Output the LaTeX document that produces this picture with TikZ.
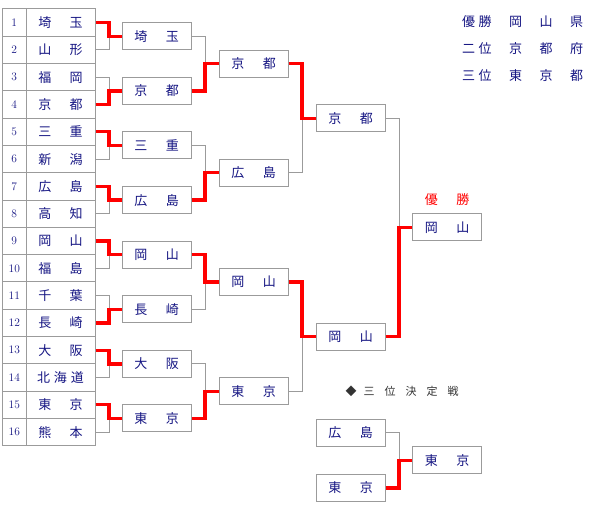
\documentclass[tikz,border=0pt]{standalone}
\usepackage{fontspec}
\newfontfamily\jp{Noto Sans CJK JP}
\definecolor{ink}{RGB}{20,20,130}
\definecolor{frame}{RGB}{155,155,155}
\newcommand\sep{\hspace{18.5pt}}
% one match: top, bottom, next round, winner
\newcommand\bout[4]{%
  \draw[wire] (#1.east) -- ++(13.5,0) |- (#3.west);
  \draw[wire] (#2.east) -- ++(13.5,0) |- (#3.west);
  \draw[win] (#4.east) -- ++(13.5,0) |- (#3.west);}

\begin{document}
\begin{tikzpicture}[x=1pt, y=-1pt]
    \tikzstyle{cell}=[draw=frame, line width=1pt, inner sep=0pt, minimum height=27.3pt, text=ink]
    \tikzstyle{box}=[draw=frame, line width=1pt, fill=white, inner sep=0pt, minimum width=69pt, minimum height=27pt, text=ink, font=\jp\fontsize{13}{15}\selectfont]
    \tikzstyle{wire}=[draw=frame, line width=1pt]
    \tikzstyle{win}=[draw=red, line width=3.3pt]
    \useasboundingbox (0,0) rectangle (600,510);
    % entry table
    \foreach \i/\nm in {1/埼\sep 玉, 2/山\sep 形, 3/福\sep 岡, 4/京\sep 都,
        5/三\sep 重, 6/新\sep 潟, 7/広\sep 島, 8/高\sep 知,
        9/岡\sep 山, 10/福\sep 島, 11/千\sep 葉, 12/長\sep 崎,
        13/大\sep 阪, 14/北\hspace{4pt}海\hspace{4pt}道, 15/東\sep 京, 16/熊\sep 本} {
      \pgfmathsetmacro\yy{9+27.3*(\i-0.5)}
      \node[cell, minimum width=23.5pt, font=\fontsize{11.5}{13}\selectfont] (n\i) at (14.25,\yy) {\i};
      \node[cell, minimum width=69pt, font=\jp\fontsize{13}{15}\selectfont] (t\i) at (60.5,\yy) {\nm};
    }
    % rounds
    \foreach \i/\nm in {1/埼\sep 玉, 2/京\sep 都, 3/三\sep 重, 4/広\sep 島,
        5/岡\sep 山, 6/長\sep 崎, 7/大\sep 阪, 8/東\sep 京}
      \node[box] (a\i) at (156.5,{36.3+54.6*(\i-1)}) {\nm};
    \foreach \i/\nm in {1/京\sep 都, 2/広\sep 島, 3/岡\sep 山, 4/東\sep 京}
      \node[box] (b\i) at (253.5,{63.6+109.2*(\i-1)}) {\nm};
    \node[box] (c1) at (350.5,118.2) {京\sep 都};
    \node[box] (c2) at (350.5,336.6) {岡\sep 山};
    \node[box] (champ) at (447,227.4) {岡\sep 山};
    \node[text=red, font=\jp\fontsize{13}{15}\selectfont] (champlbl) at (447,200) {優\sep 勝};
    % third place
    \node[text=black!80, font=\jp\fontsize{11}{13}\selectfont, anchor=west] (thirdlbl) at (342,391.5)
      {◆\hspace{7pt}三\hspace{10pt}位\hspace{10pt}決\hspace{10pt}定\hspace{10pt}戦};
    \node[box] (p1) at (350.5,433) {広\sep 島};
    \node[box] (p2) at (350.5,488) {東\sep 京};
    \node[box] (p3) at (447,460.5) {東\sep 京};
    % result list
    \node[text=ink, font=\jp\fontsize{13}{15}\selectfont, anchor=west] (res1) at (458.5,21.7)
      {優\hspace{3.5pt}勝\hspace{17.5pt}岡\hspace{17.5pt}山\hspace{17.5pt}県};
    \node[text=ink, font=\jp\fontsize{13}{15}\selectfont, anchor=west] (res2) at (458.5,49)
      {二\hspace{3.5pt}位\hspace{17.5pt}京\hspace{17.5pt}都\hspace{17.5pt}府};
    \node[text=ink, font=\jp\fontsize{13}{15}\selectfont, anchor=west] (res3) at (458.5,76)
      {三\hspace{3.5pt}位\hspace{17.5pt}東\hspace{17.5pt}京\hspace{17.5pt}都};
    % bracket lines
    \bout{t1}{t2}{a1}{t1}   \bout{t3}{t4}{a2}{t4}
    \bout{t5}{t6}{a3}{t5}   \bout{t7}{t8}{a4}{t7}
    \bout{t9}{t10}{a5}{t9}  \bout{t11}{t12}{a6}{t12}
    \bout{t13}{t14}{a7}{t13} \bout{t15}{t16}{a8}{t15}
    \bout{a1}{a2}{b1}{a2}   \bout{a3}{a4}{b2}{a4}
    \bout{a5}{a6}{b3}{a5}   \bout{a7}{a8}{b4}{a8}
    \bout{b1}{b2}{c1}{b1}   \bout{b3}{b4}{c2}{b3}
    \bout{c1}{c2}{champ}{c2}
    \bout{p1}{p2}{p3}{p2}
  \end{tikzpicture}
\end{document}
